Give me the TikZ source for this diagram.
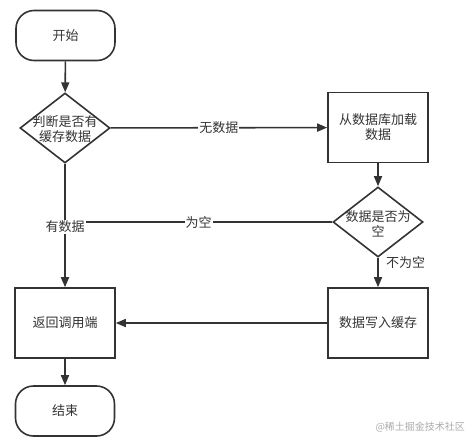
\documentclass[tikz,border=0pt]{standalone}
\usepackage{fontspec}
\newfontfamily\cjk{Noto Sans CJK SC}
\usetikzlibrary{arrows.meta,shapes.geometric}
\definecolor{ln}{HTML}{333333}
\definecolor{txt}{HTML}{333333}
\definecolor{wmc}{HTML}{AAAAAA}
\begin{document}
\begin{tikzpicture}[x=1pt,y=-1pt,
  font=\cjk\fontsize{13}{15}\selectfont,
  every node/.style={text=txt},
  line/.style={draw=ln, line width=1.6pt},
  arr/.style={line, -{Triangle[length=10pt,width=8pt]}},
  term/.style={draw=ln, line width=1.6pt, rounded corners=18pt, minimum width=99pt, minimum height=50pt, inner sep=0pt},
  stepbox/.style={draw=ln, line width=1.6pt, minimum width=100pt, minimum height=70pt, align=center, inner sep=0pt},
  dia/.style={draw=ln, line width=1.6pt, diamond, minimum width=90pt, minimum height=70pt, inner sep=0pt},
  lbl/.style={fill=white, inner sep=1pt}]
\useasboundingbox (0,0) rectangle (474,445);
\node[term] (start) at (65.5,35.5) {开始};
\node[dia] (d1) at (65,128) {};
\node[align=center] (d1t) at (65,129.5) {判断是否有\\缓存数据};
\node[stepbox] (load) at (378,127.5) {从数据库加载\\数据};
\node[dia] (d2) at (378,222) {};
\node[align=center] (d2t) at (378,224) {数据是否为\\空};
\node[stepbox] (ret) at (65,323) {返回调用端};
\node[stepbox] (write) at (378,323) {数据写入缓存};
\node[term] (end) at (65,411) {结束};
\coordinate (j) at (d2.west -| d1.south);
\draw[arr] (start) -- (d1);
\draw[arr] (d1) -- node[lbl] (l1) {无数据} (load);
\draw[arr] (load) -- (d2);
\draw[line] (d2.west) -- node[lbl] (l2) {为空} (j);
\draw[arr] (d1.south) -- node[lbl, pos=0.51] (l3) {有数据} (ret.north);
\draw[arr] (d2.south) -- node[right=4pt, pos=0.16] (l4) {不为空} (write.north);
\draw[arr] (write) -- (ret);
\draw[arr] (ret) -- (end);
\node[text=wmc, font=\cjk\fontsize{10}{12}\selectfont, anchor=west] (wm) at (372,427) {@稀土掘金技术社区};
\end{tikzpicture}
\end{document}
